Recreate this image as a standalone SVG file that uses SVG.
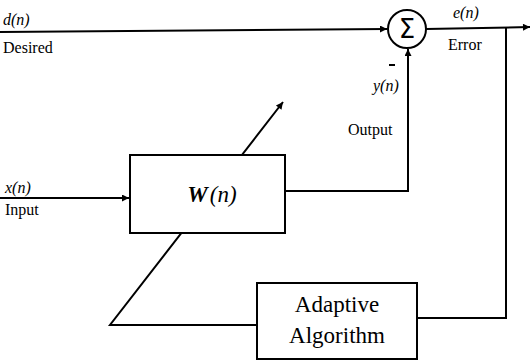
<svg xmlns="http://www.w3.org/2000/svg" width="531" height="361" viewBox="0 0 531 361">
<style>
.ln{fill:none;stroke:#000;stroke-width:2}
.box{fill:#fff;stroke:#000;stroke-width:2}
.lb{font-family:"Liberation Serif",serif;font-size:16px;fill:#000}
.it{font-style:italic}
.big{font-family:"Liberation Serif",serif;font-size:23px;fill:#000}
</style>
<defs>
<marker id="ah" viewBox="0 0 10 10" refX="10" refY="5" markerWidth="10" markerHeight="7" markerUnits="userSpaceOnUse" orient="auto">
<path d="M0,0 L10,5 L0,10 z" fill="#000"/>
</marker>
</defs>
<g id="connectors">
<line class="ln" x1="0" y1="32" x2="387" y2="29" marker-end="url(#ah)"/>
<line class="ln" x1="426" y1="29" x2="530" y2="27" marker-end="url(#ah)"/>
<polyline class="ln" points="506,28 506,318 417,318"/>
<polyline class="ln" points="285,191 408,191 408,49" marker-end="url(#ah)"/>
<line class="ln" x1="0" y1="198" x2="129" y2="198" marker-end="url(#ah)"/>
<polyline class="ln" points="257,325 110,325 283,102" marker-end="url(#ah)"/>
</g>
<g id="sum">
<circle cx="407" cy="29" r="19" fill="#fff" stroke="#000" stroke-width="2"/>
<text x="407" y="38" text-anchor="middle" font-family="DejaVu Sans,sans-serif" font-size="26">Σ</text>
</g>
<g id="W">
<rect class="box" x="130" y="155" width="155" height="78"/>
<text x="212" y="202" text-anchor="middle" class="big" font-size="24"><tspan font-weight="bold" font-style="italic">W</tspan><tspan font-style="italic" dx="2">(n)</tspan></text>
</g>
<g id="adaptive">
<rect class="box" x="257" y="283" width="160" height="76"/>
<text x="337" y="312" text-anchor="middle" class="big">Adaptive</text>
<text x="337" y="343" text-anchor="middle" class="big">Algorithm</text>
</g>
<g id="labels">
<text x="3" y="25" class="lb it">d(n)</text>
<text x="3" y="53" class="lb">Desired</text>
<text x="453" y="18" class="lb it">e(n)</text>
<text x="448" y="50" class="lb">Error</text>
<line x1="389" y1="65" x2="395" y2="65" stroke="#000" stroke-width="2"/>
<text x="373" y="91" class="lb it">y(n)</text>
<text x="348" y="135" class="lb">Output</text>
<text x="5" y="193" class="lb it">x(n)</text>
<text x="5" y="215" class="lb">Input</text>
</g>
</svg>
